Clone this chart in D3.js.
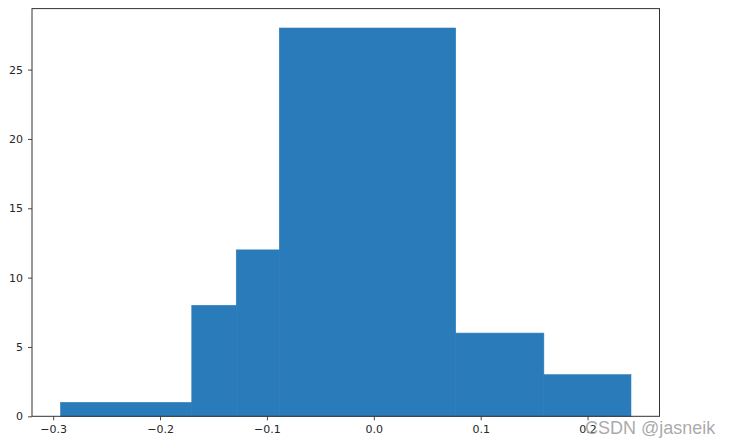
<!DOCTYPE html>
<html><head><meta charset="utf-8">
<script src="https://cdn.jsdelivr.net/npm/d3@7"></script>
<style>body{margin:0;background:#fff}svg{display:block}</style>
</head><body>
<svg id="c" width="734" height="448"></svg>
<script>
const binEdges = [-0.2931, -0.1703, -0.1287, -0.0884, 0.0766, 0.1591, 0.2406];
const counts = [1, 8, 12, 28, 6, 3];
const xTicks = [-0.3, -0.2, -0.1, 0.0, 0.1, 0.2];
const yTicks = [0, 5, 10, 15, 20, 25];

const svg = d3.select("#c");
const L = 32, R = 659.5, T = 8.6, B = 416.3;
const x = d3.scaleLinear().domain([-0.3198, 0.2673]).range([L, R]);
const y = d3.scaleLinear().domain([0, 29.4]).range([B, T]);

const bins = counts.map((c, i) => ({x0: binEdges[i], x1: binEdges[i+1], c}));
svg.append("g").selectAll("rect").data(bins).join("rect")
  .attr("x", d => x(d.x0)).attr("width", d => x(d.x1) - x(d.x0))
  .attr("y", d => y(d.c)).attr("height", d => y(0) - y(d.c))
  .attr("fill", "#2a7bb9").attr("stroke", "#2a7bb9").attr("stroke-width", 0.6);

const font = "'DejaVu Sans', sans-serif";
const fmt = d => (d < 0 ? "\u2212" : "") + Math.abs(d).toFixed(1);
const xa = svg.append("g").attr("transform", `translate(0,${B})`)
  .call(d3.axisBottom(x).tickValues(xTicks).tickFormat(fmt).tickSize(4).tickPadding(5));
const ya = svg.append("g").attr("transform", `translate(${L},0)`)
  .call(d3.axisLeft(y).tickValues(yTicks).tickFormat(d3.format("d")).tickSize(4).tickPadding(5));
[xa, ya].forEach(a => {
  a.select(".domain").remove();
  a.selectAll("line").attr("stroke", "#333").attr("stroke-width", 0.9);
  a.selectAll("text").attr("font-family", font).attr("font-size", 11).attr("fill", "#262626");
});
svg.append("rect").attr("x", L).attr("y", T).attr("width", R - L).attr("height", B - T)
  .attr("fill", "none").attr("stroke", "#333").attr("stroke-width", 1);

svg.append("text").attr("x", 585).attr("y", 434).attr("font-family", "'Liberation Sans', Arial, sans-serif")
  .attr("font-size", 18).attr("fill", "#a0a0a0").attr("fill-opacity", 0.9).text("CSDN @jasneik");
</script>
</body></html>
